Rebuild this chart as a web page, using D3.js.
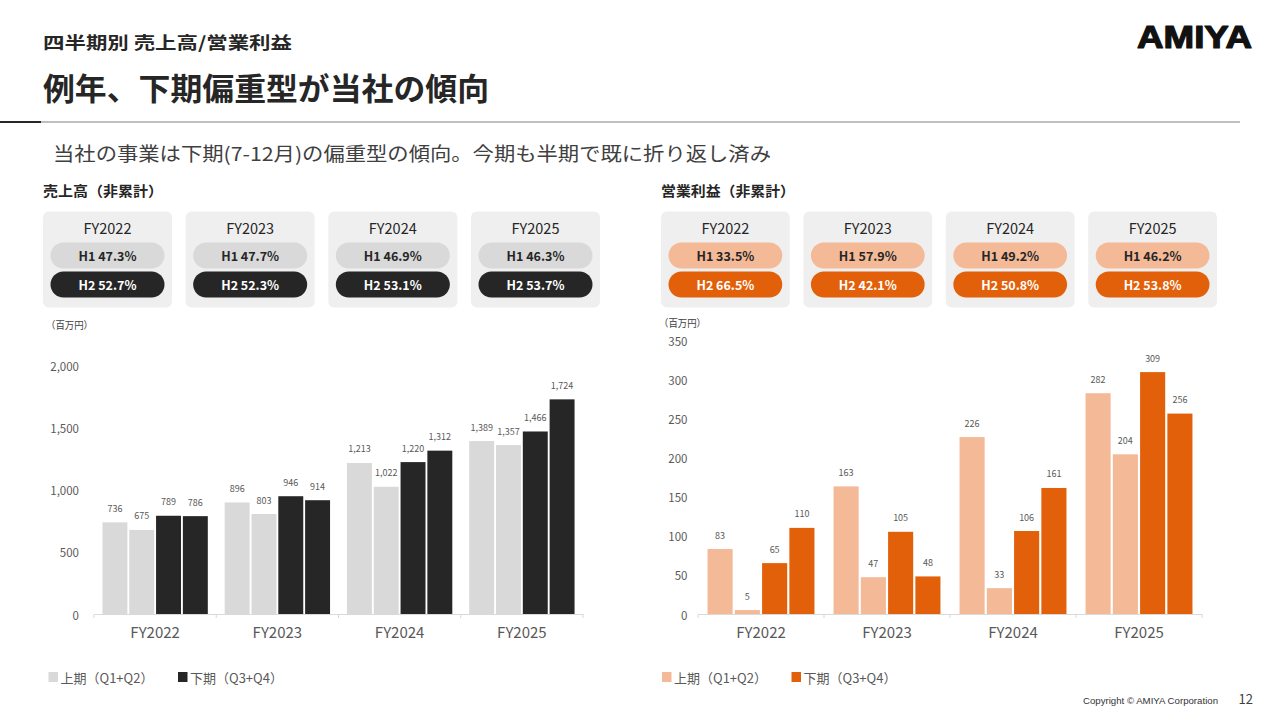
<!DOCTYPE html>
<html>
<head>
<meta charset="utf-8">
<script src="https://cdn.jsdelivr.net/npm/d3@7"></script>
<style>
  html, body { margin: 0; padding: 0; background: #ffffff; }
  svg { display: block; font-family: "Noto Sans CJK JP", "Noto Sans", sans-serif; }
</style>
</head>
<body>
<svg id="chart" width="1280" height="720"></svg>
<script>
// ---------- data ----------
const years = ["FY2022", "FY2023", "FY2024", "FY2025"];
const quarters = ["Q1", "Q2", "Q3", "Q4"];
const salesQ1 = [736, 896, 1213, 1389];
const salesQ2 = [675, 803, 1022, 1357];
const salesQ3 = [789, 946, 1220, 1466];
const salesQ4 = [786, 914, 1312, 1724];
const profitQ1 = [83, 163, 226, 282];
const profitQ2 = [5, 47, 33, 204];
const profitQ3 = [65, 105, 106, 309];
const profitQ4 = [110, 48, 161, 256];
const salesH1Share = ["47.3%", "47.7%", "46.9%", "46.3%"];
const salesH2Share = ["52.7%", "52.3%", "53.1%", "53.7%"];
const profitH1Share = ["33.5%", "57.9%", "49.2%", "46.2%"];
const profitH2Share = ["66.5%", "42.1%", "50.8%", "53.8%"];
const salesTicks = [0, 500, 1000, 1500, 2000];
const profitTicks = [0, 50, 100, 150, 200, 250, 300, 350];
const legendLabels = ["上期（Q1+Q2）", "下期（Q3+Q4）"];

const svg = d3.select("#chart");
const fmt = d3.format(",");

// ---------- header ----------
svg.append("text").attr("x", 43).attr("y", 41).attr("dominant-baseline", "central")
  .attr("font-size", 17).attr("font-weight", 700).attr("fill", "#262626")
  .attr("textLength", 249).attr("lengthAdjust", "spacingAndGlyphs")
  .text("四半期別 売上高/営業利益");
svg.append("text").attr("x", 43).attr("y", 86).attr("dominant-baseline", "central")
  .attr("font-size", 31).attr("font-weight", 700).attr("fill", "#262626")
  .attr("textLength", 446).attr("lengthAdjust", "spacingAndGlyphs")
  .text("例年、下期偏重型が当社の傾向");
svg.append("text").attr("x", 1137).attr("y", 37).attr("dominant-baseline", "central")
  .attr("font-family", "Liberation Sans, Arial, sans-serif")
  .attr("font-size", 31).attr("font-weight", 700).attr("fill", "#111")
  .attr("stroke", "#111").attr("stroke-width", 1.2).attr("stroke-linejoin", "round")
  .attr("textLength", 115).attr("lengthAdjust", "spacingAndGlyphs")
  .text("AMIYA");
svg.append("line").attr("x1", 40).attr("x2", 1240).attr("y1", 122).attr("y2", 122)
  .attr("stroke", "#bfbfbf").attr("stroke-width", 2);
svg.append("line").attr("x1", 0).attr("x2", 41).attr("y1", 122).attr("y2", 122)
  .attr("stroke", "#262626").attr("stroke-width", 2);
svg.append("text").attr("x", 53).attr("y", 152).attr("dominant-baseline", "central")
  .attr("font-size", 19).attr("fill", "#404040")
  .attr("textLength", 718).attr("lengthAdjust", "spacingAndGlyphs")
  .text("当社の事業は下期(7-12月)の偏重型の傾向。今期も半期で既に折り返し済み");

// footer
svg.append("text").attr("x", 1083).attr("y", 701).attr("dominant-baseline", "central")
  .attr("font-family", "Liberation Sans, Arial, sans-serif")
  .attr("font-size", 9).attr("fill", "#333")
  .attr("textLength", 135).attr("lengthAdjust", "spacingAndGlyphs")
  .text("Copyright © AMIYA Corporation");
svg.append("text").attr("x", 1253).attr("y", 698).attr("dominant-baseline", "central")
  .attr("text-anchor", "end").attr("font-size", 13).attr("fill", "#404040")
  .text("12");

// ---------- panel builder ----------
function panel(cfg) {
  const g = svg.append("g");
  // section title
  g.append("text").attr("x", cfg.titleX).attr("y", 190).attr("dominant-baseline", "central")
    .attr("font-size", 14).attr("font-weight", 700).attr("fill", "#262626")
    .attr("textLength", cfg.titleLen).attr("lengthAdjust", "spacingAndGlyphs")
    .text(cfg.title);

  // cards
  const cx = d3.scaleBand().domain(years).range(cfg.cardRange).paddingInner(0.0958).paddingOuter(0);
  const cards = g.selectAll("g.card").data(years).join("g").attr("class", "card")
    .attr("transform", d => `translate(${cx(d)},211.5)`);
  cards.append("rect").attr("width", cx.bandwidth()).attr("height", 96).attr("rx", 6)
    .attr("fill", "#efefef");
  cards.append("text").attr("x", cx.bandwidth() / 2).attr("y", 16).attr("text-anchor", "middle")
    .attr("dominant-baseline", "central").attr("font-size", 14.5).attr("font-weight", 400)
    .attr("fill", "#262626").text(d => d);
  const pw = cx.bandwidth() - 15;
  cards.append("rect").attr("x", 7.5).attr("y", 31).attr("width", pw).attr("height", 26)
    .attr("rx", 13).attr("fill", cfg.pillLight);
  cards.append("text").attr("x", cx.bandwidth() / 2).attr("y", 44).attr("text-anchor", "middle")
    .attr("dominant-baseline", "central").attr("font-size", 12.5).attr("font-weight", 700)
    .attr("fill", "#262626").text((d, i) => "H1 " + cfg.h1[i]);
  cards.append("rect").attr("x", 7.5).attr("y", 60).attr("width", pw).attr("height", 26)
    .attr("rx", 13).attr("fill", cfg.pillDark);
  cards.append("text").attr("x", cx.bandwidth() / 2).attr("y", 73).attr("text-anchor", "middle")
    .attr("dominant-baseline", "central").attr("font-size", 12.5).attr("font-weight", 700)
    .attr("fill", "#ffffff").text((d, i) => "H2 " + cfg.h2[i]);

  // unit
  g.append("text").attr("x", cfg.unitX).attr("y", cfg.unitY).attr("dominant-baseline", "central")
    .attr("font-size", 10).attr("fill", "#404040")
    .attr("textLength", 47).attr("lengthAdjust", "spacingAndGlyphs")
    .text("（百万円）");

  // scales
  const x0 = d3.scaleBand().domain(years).range(cfg.xRange).padding(0);
  const x1 = d3.scaleBand().domain(quarters).range([0, x0.bandwidth()])
    .paddingInner(cfg.pi).paddingOuter(cfg.po);
  const y = d3.scaleLinear().domain([0, cfg.max]).range([614, cfg.top]);

  const rows = years.map((yr, i) => ({
    year: yr,
    vals: quarters.map((q, j) => ({ q, v: cfg.series[j][i] }))
  }));
  const color = q => (q === "Q1" || q === "Q2") ? cfg.light : cfg.dark;

  const grp = g.selectAll("g.grp").data(rows).join("g").attr("class", "grp")
    .attr("transform", d => `translate(${x0(d.year)},0)`);
  grp.selectAll("rect").data(d => d.vals).join("rect")
    .attr("x", d => x1(d.q)).attr("width", x1.bandwidth())
    .attr("y", d => y(d.v)).attr("height", d => 614 - y(d.v))
    .attr("fill", d => color(d.q));
  grp.selectAll("text.lbl").data(d => d.vals).join("text").attr("class", "lbl")
    .attr("x", d => x1(d.q) + x1.bandwidth() / 2).attr("y", d => y(d.v) - 14)
    .attr("text-anchor", "middle").attr("dominant-baseline", "central")
    .attr("font-size", 9).attr("fill", "#595959").text(d => fmt(d.v));

  // y axis
  const ya = g.append("g").attr("transform", `translate(${cfg.xRange[0]},0)`)
    .call(d3.axisLeft(y).tickValues(cfg.ticks).tickFormat(fmt).tickSize(0).tickPadding(cfg.yPad));
  ya.select(".domain").remove();
  ya.selectAll("text").attr("font-family", "Noto Sans CJK JP, sans-serif")
    .attr("font-size", 11.5).attr("fill", "#595959").attr("dy", null)
    .attr("dominant-baseline", "central");

  // x axis
  const xa = g.append("g").attr("transform", "translate(0,614)")
    .call(d3.axisBottom(x0).tickSize(0).tickSizeOuter(0));
  xa.select(".domain").attr("stroke", "#d9d9d9").attr("stroke-width", 1);
  xa.selectAll("text").attr("font-family", "Noto Sans CJK JP, sans-serif")
    .attr("font-size", 15).attr("fill", "#595959").attr("dy", null).attr("y", 17)
    .attr("dominant-baseline", "central");
  const bounds = years.map(d => x0(d)).concat([cfg.xRange[1]]);
  xa.selectAll("line.bnd").data(bounds).join("line").attr("class", "bnd")
    .attr("x1", d => d).attr("x2", d => d).attr("y1", 0).attr("y2", 4)
    .attr("stroke", "#d9d9d9");

  // legend
  const lg = g.selectAll("g.lg").data(legendLabels).join("g").attr("class", "lg")
    .attr("transform", (d, i) => `translate(${cfg.legendX[i]},677)`);
  lg.append("rect").attr("x", 0).attr("y", -5).attr("width", 9.5).attr("height", 10)
    .attr("fill", (d, i) => i === 0 ? cfg.light : cfg.dark);
  lg.append("text").attr("x", 12).attr("y", 0).attr("dominant-baseline", "central")
    .attr("font-size", 13).attr("fill", "#595959").text(d => d);
}

panel({
  title: "売上高（非累計）", titleX: 43, titleLen: 120,
  cardRange: [43, 600], pillLight: "#d9d9d9", pillDark: "#262626",
  h1: salesH1Share, h2: salesH2Share,
  unitX: 46, unitY: 324,
  xRange: [94, 583], pi: 0.07, po: 0.315,
  max: 2000, top: 365, ticks: salesTicks, yPad: 15,
  series: [salesQ1, salesQ2, salesQ3, salesQ4],
  light: "#d9d9d9", dark: "#262626",
  legendX: [48.5, 178]
});

panel({
  title: "営業利益（非累計）", titleX: 661, titleLen: 134,
  cardRange: [661, 1217], pillLight: "#f4b996", pillDark: "#e2600a",
  h1: profitH1Share, h2: profitH2Share,
  unitX: 659, unitY: 322,
  xRange: [698, 1202], pi: 0.08, po: 0.35,
  max: 350, top: 340, ticks: profitTicks, yPad: 10.5,
  series: [profitQ1, profitQ2, profitQ3, profitQ4],
  light: "#f4b996", dark: "#e2600a",
  legendX: [662, 791.5]
});
</script>
</body>
</html>
